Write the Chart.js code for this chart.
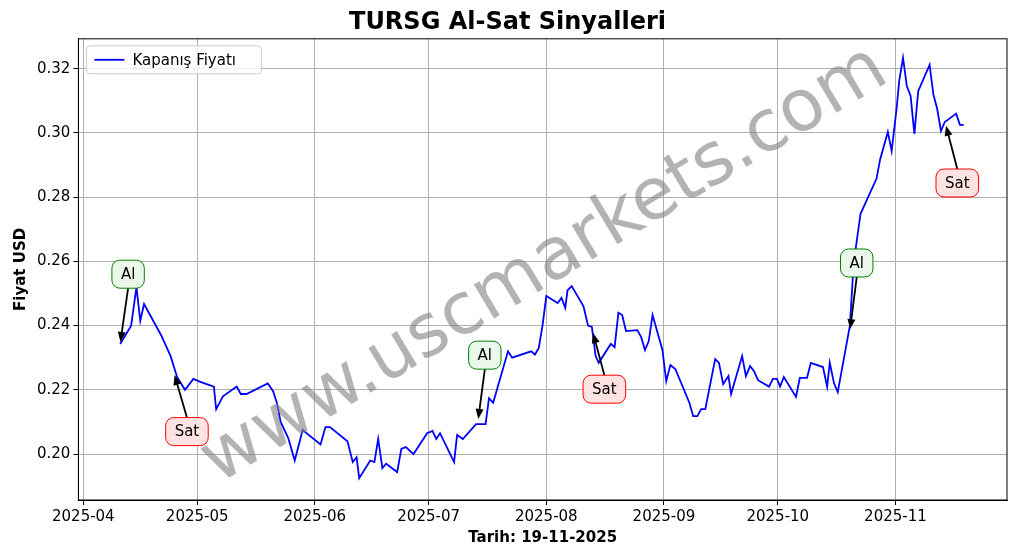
<!DOCTYPE html>
<html><head><meta charset="utf-8">
<script src="https://cdn.jsdelivr.net/npm/chart.js@4/dist/chart.umd.min.js"></script>
<style>body{margin:0;background:#fff}#w{width:1017px;height:554px}</style>
</head><body><div id="w"><canvas id="c"></canvas></div>
<script>
// day index = days since 2025-04-01
const days = [9.7,12.6,14,15,16,20.5,23,24.7,26.8,29,31,34.4,35,36.8,40.4,41.5,43,48.6,50,51,52,54,55.7,57.8,62.5,63.8,65,69.6,71,72,72.7,75.6,76.7,77.7,78.8,79.8,82.7,83.8,85,87,90.6,92,93,94,97.7,98.5,100,103.5,106,106.9,108,111.9,113,118,119,120,121,122,125,126,127,127.6,128.7,131.8,133,134,135,135.8,139,140,141,142,143,146,147,148,149,150,152.6,153.6,154.7,156,159.7,160.7,161.8,162.8,163.9,166.5,167.5,168.6,170,170.7,173.6,174.6,175.7,176.7,177.8,180.7,181.7,182.8,183.6,184.6,187.8,188.8,190.7,191.7,194.9,196,196.7,197.8,198.8,202,203,203.8,204.8,209,210,212,213,214.3,215,216,217,218,219,220,223,224,225,226,227,230,231,232];
const prices = [0.2343,0.240,0.252,0.2415,0.2467,0.237,0.2305,0.224,0.220,0.2234,0.2224,0.221,0.214,0.218,0.221,0.2187,0.2187,0.222,0.2196,0.216,0.210,0.205,0.198,0.2075,0.203,0.2084,0.2084,0.204,0.1975,0.199,0.1925,0.198,0.1975,0.2047,0.1956,0.197,0.1944,0.2016,0.2022,0.200,0.2065,0.2072,0.2047,0.2065,0.1975,0.206,0.2047,0.2093,0.2093,0.2174,0.216,0.232,0.230,0.232,0.231,0.233,0.240,0.2492,0.247,0.2486,0.2455,0.251,0.2523,0.246,0.240,0.2396,0.2305,0.2284,0.2343,0.2333,0.244,0.2433,0.2383,0.2386,0.2364,0.2324,0.2352,0.2433,0.2324,0.2227,0.2277,0.2265,0.216,0.2118,0.2118,0.214,0.214,0.2296,0.2284,0.2218,0.2243,0.2187,0.2305,0.2243,0.2274,0.2259,0.223,0.221,0.2234,0.2234,0.221,0.224,0.2178,0.2237,0.2237,0.2284,0.2271,0.221,0.2284,0.2221,0.2193,0.240,0.2595,0.2663,0.2748,0.2857,0.2919,0.3003,0.2944,0.3075,0.3162,0.3234,0.3146,0.3115,0.2997,0.313,0.3212,0.312,0.3075,0.3006,0.3034,0.306,0.3025,0.3025];
const tickDays = [0,30,61,91,122,153,183,214];
const tickLabels = ['2025-04','2025-05','2025-06','2025-07','2025-08','2025-09','2025-10','2025-11'];
const yTicks = [0.20,0.22,0.24,0.26,0.28,0.30,0.32];
const sigLabels = ['Al','Sat','Al','Sat','Al','Sat'];
const sigPoint = [[9.7,0.2343],[23.9,0.2252],[104,0.2103],[134.2,0.2383],[202,0.2383],[227.2,0.3028]];
const sigText = [[11.8,0.256],[27.3,0.207],[105.8,0.2308],[137.3,0.2202],[203.8,0.2595],[230.3,0.2844]];

const F = 'DejaVu Sans';
const overlay = {
  id:'overlay',
  afterDatasetsDraw(ch){
    const {ctx, chartArea:a, scales:{x,y}} = ch;
    ctx.save();
    ctx.strokeStyle='#000'; ctx.lineWidth=1; ctx.strokeRect(a.left,a.top,a.right-a.left,a.bottom-a.top);
    sigLabels.forEach((l,i)=>{
      const buy = l==='Al';
      const tx=x.getPixelForValue(sigText[i][0]), ty=y.getPixelForValue(sigText[i][1]);
      const px=x.getPixelForValue(sigPoint[i][0]), py=y.getPixelForValue(sigPoint[i][1]);
      ctx.font = '15px '+F;
      const w = ctx.measureText(l).width+18, h=28;
      const sy = buy ? ty+h/2 : ty-h/2;
      ctx.strokeStyle='#000'; ctx.fillStyle='#000'; ctx.lineWidth=1.8;
      const ang=Math.atan2(py-sy,px-tx);
      const ex=px-Math.cos(ang)*2, ey=py-Math.sin(ang)*2;
      ctx.beginPath(); ctx.moveTo(tx,sy); ctx.lineTo(ex-Math.cos(ang)*8,ey-Math.sin(ang)*8); ctx.stroke();
      ctx.beginPath(); ctx.moveTo(ex,ey);
      ctx.lineTo(ex-Math.cos(ang)*10+Math.sin(ang)*4, ey-Math.sin(ang)*10-Math.cos(ang)*4);
      ctx.lineTo(ex-Math.cos(ang)*10-Math.sin(ang)*4, ey-Math.sin(ang)*10+Math.cos(ang)*4);
      ctx.closePath(); ctx.fill();
      ctx.beginPath(); ctx.roundRect(tx-w/2,ty-h/2,w,h,8);
      ctx.fillStyle = buy ? '#eaf7ea' : '#fde3e1'; ctx.fill();
      ctx.strokeStyle = buy ? 'green' : 'red'; ctx.lineWidth=1; ctx.stroke();
      ctx.fillStyle='#000'; ctx.textAlign='center'; ctx.textBaseline='middle';
      ctx.fillText(l,tx,ty+1);
    });
    ctx.translate(545,266); ctx.rotate(-31*Math.PI/180);
    ctx.font='72px '+F; ctx.fillStyle='rgba(128,128,128,0.6)';
    ctx.textAlign='center'; ctx.textBaseline='middle';
    ctx.fillText('www.uscmarkets.com',0,0);
    ctx.restore();
  }
};
new Chart(document.getElementById('c'),{
  type:'line',
  data:{datasets:[{label:'Kapanış Fiyatı',data:days.map((d,i)=>({x:d,y:prices[i]})),
    borderColor:'blue',backgroundColor:'blue',borderWidth:1.8,pointRadius:0,tension:0}]},
  options:{
    responsive:true,maintainAspectRatio:false,animation:false,
    layout:{padding:{left:8,right:10,top:0,bottom:7}},
    plugins:{
      title:{display:true,text:'TURSG Al-Sat Sinyalleri',font:{family:F,size:24,weight:'bold'},color:'#000',padding:{top:8,bottom:2}},
      legend:{display:false},
      tooltip:{enabled:false}
    },
    scales:{
      x:{type:'linear',min:-1.3,max:243.4,
        afterBuildTicks(s){s.ticks=tickDays.map(v=>({value:v}));},
        ticks:{callback:(v)=>tickLabels[tickDays.indexOf(v)],font:{family:F,size:15},color:'#000',maxRotation:0},
        grid:{color:'#b0b0b0',tickColor:'#000',tickLength:5},border:{color:'#000'},
        title:{display:true,text:'Tarih: 19-11-2025',font:{family:F,size:15,weight:'bold'},color:'#000',padding:0}},
      y:{min:0.1857,max:0.3293,
        afterBuildTicks(s){s.ticks=yTicks.map(v=>({value:v}));},
        ticks:{callback:v=>v.toFixed(2),font:{family:F,size:15},color:'#000'},
        grid:{color:'#b0b0b0',tickColor:'#000',tickLength:5},border:{color:'#000'},
        title:{display:true,text:'Fiyat USD',font:{family:F,size:15,weight:'bold'},color:'#000',padding:4}}
    }
  },
  plugins:[overlay,{
    id:'leg',
    afterDraw(ch){
      const {ctx,chartArea:a}=ch; ctx.save();
      const x0=a.left+8,y0=a.top+7;
      ctx.beginPath(); ctx.roundRect(x0,y0,175,28,4);
      ctx.fillStyle='rgba(255,255,255,0.8)'; ctx.fill(); ctx.strokeStyle='#ccc'; ctx.stroke();
      ctx.strokeStyle='blue'; ctx.lineWidth=1.8; ctx.beginPath(); ctx.moveTo(x0+8,y0+14); ctx.lineTo(x0+38,y0+14); ctx.stroke();
      ctx.fillStyle='#000'; ctx.font='15px '+F; ctx.textBaseline='middle'; ctx.fillText('Kapanış Fiyatı',x0+46,y0+15);
      ctx.restore();
    }
  }]
});
</script></body></html>
